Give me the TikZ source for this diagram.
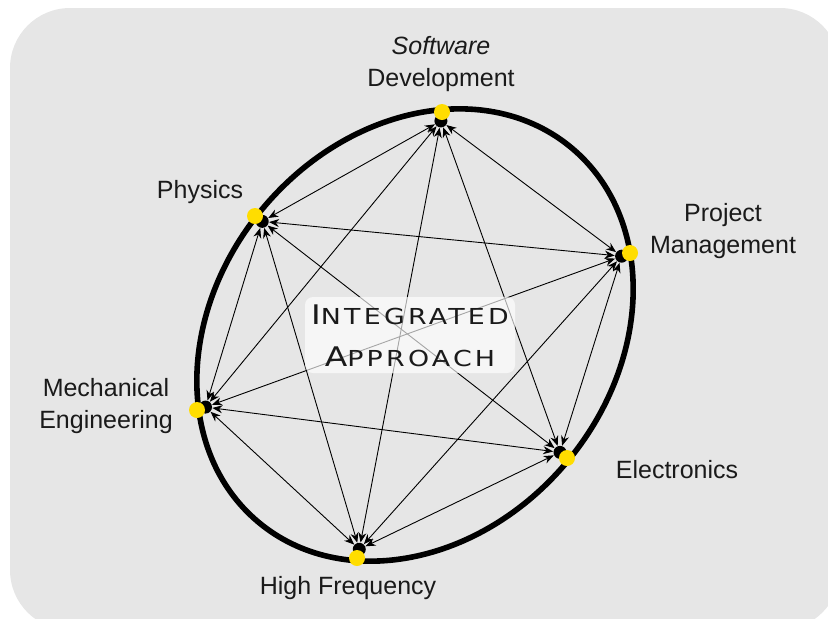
\documentclass[tikz,border=0pt]{standalone}
\usepackage{fontspec}
\setmainfont{Liberation Sans}
\newfontfamily\capsfont[LetterSpace=12]{DejaVu Sans}
\usetikzlibrary{arrows.meta,calc}
\definecolor{bggray}{HTML}{E6E6E6}
\definecolor{dotyellow}{HTML}{FFDD00}
\definecolor{txt}{HTML}{1A1A1A}
\newcommand{\bigsmall}[2]{{\capsfont\fontsize{13.5}{16}\selectfont #1\fontsize{11}{16}\selectfont #2}}
\begin{document}
\begin{tikzpicture}[x=0.5pt,y=-0.5pt,
  dot/.style={circle,fill=dotyellow,inner sep=0pt,minimum size=8pt},
  hubstyle/.style={circle,fill=black,inner sep=0pt,minimum size=6.5pt},
  lbl/.style={text=txt,font=\fontsize{12.5}{16}\selectfont,align=center,inner sep=0pt},
  link/.style={line width=0.45pt,black,{Stealth[length=5pt,width=4pt]}-{Stealth[length=5pt,width=4pt]}},
  ring/.style={line width=2.8pt,black}]
\useasboundingbox (0,0) rectangle (828,618);
\fill[bggray,rounded corners=30pt] (10,8) rectangle (840,630);
\coordinate (c) at (415,335);
% ring (rotated ellipse)
\draw[ring] (c) ellipse[x radius=122pt,y radius=99pt,rotate=50];
% ring positions
\coordinate (psd) at (442,112);
\coordinate (ppm) at (630,253);
\coordinate (pel) at (567,458);
\coordinate (phf) at (357,558);
\coordinate (pme) at (197,410);
\coordinate (pph) at (255,216);
% hubs (where the connectors meet)
\foreach \n in {sd,pm,el,hf,me,ph}
  \node[hubstyle] (h\n) at ($(p\n)!4.5pt!(c)$) {};
% links (complete graph)
\foreach \a/\b in {sd/pm,sd/el,sd/hf,sd/me,sd/ph,pm/el,pm/hf,pm/me,pm/ph,el/hf,el/me,el/ph,hf/me,hf/ph,me/ph}
  \draw[link] (h\a) -- (h\b);
% yellow dots
\foreach \n in {sd,pm,el,hf,me,ph}
  \node[dot] (\n) at (p\n) {};
% centre box
\node[fill=white,fill opacity=0.65,rounded corners=4pt,minimum width=105pt,minimum height=38pt,inner sep=0pt] (box) at (410,335) {};
\node[text=txt,inner sep=0pt] (t1) at (410,315) {\scalebox{1.22}[1]{\bigsmall{I}{NTEGRATED}}};
\node[text=txt,inner sep=0pt] (t2) at (410,357) {\scalebox{1.22}[1]{\bigsmall{A}{PPROACH}}};
% labels
\node[lbl] (lsd) at (441,64) {\textit{Software}\\Development};
\node[lbl] (lph) at (200,192) {Physics};
\node[lbl] (lpm) at (723,231) {Project\\Management};
\node[lbl] (lme) at (106,406) {Mechanical\\Engineering};
\node[lbl] (lel) at (677,470) {Electronics};
\node[lbl] (lhf) at (348,588) {High Frequency};
\end{tikzpicture}
\end{document}
